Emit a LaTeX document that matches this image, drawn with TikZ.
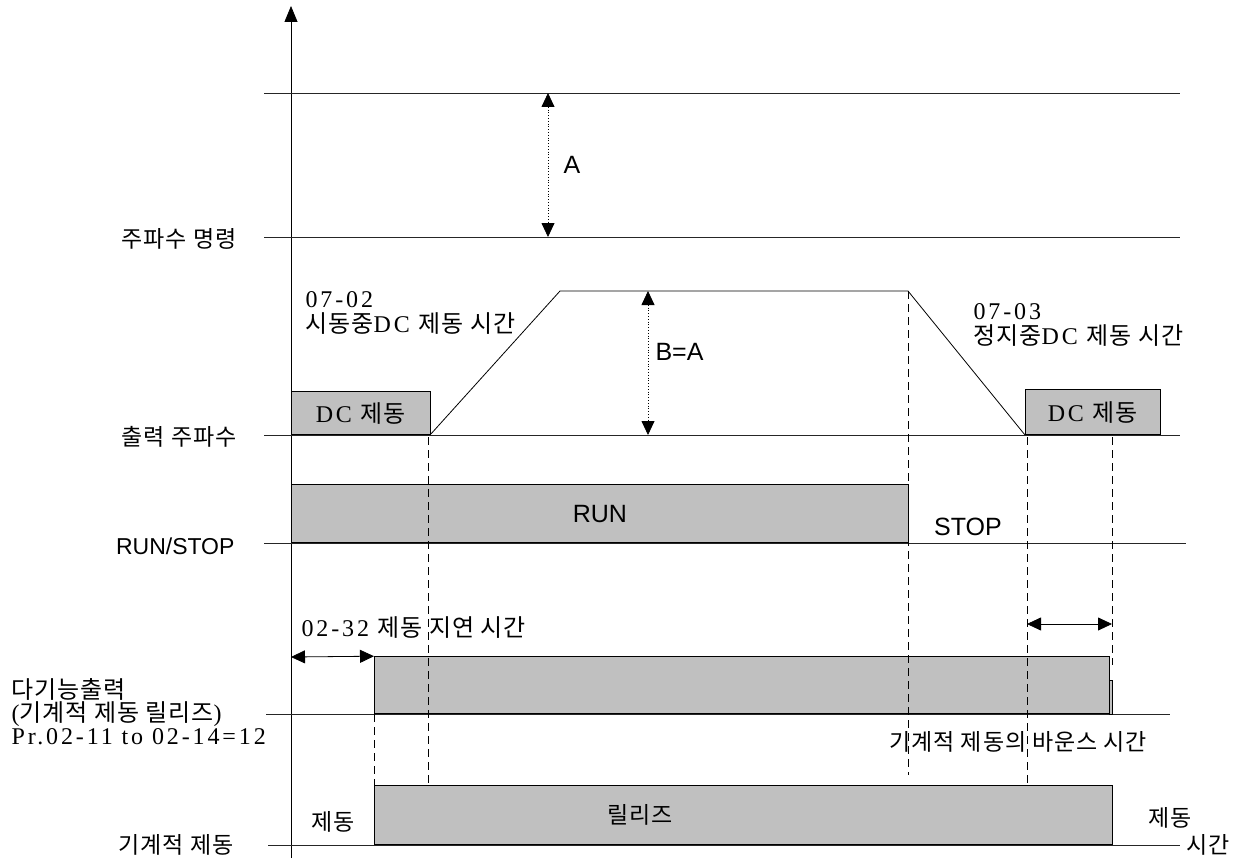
\documentclass[tikz,border=0pt]{standalone}
\usepackage{fontspec}
\setmainfont{Liberation Serif}[LetterSpace=12]
\newfontfamily\krfont{Noto Sans CJK KR}[LetterSpace=4]
\newfontfamily\arialfont{Liberation Sans}
\usepackage{tikz}
\usetikzlibrary{arrows.meta}
\definecolor{boxgray}{RGB}{192,192,192}

\begin{document}
\begin{tikzpicture}[x=1pt, y=-1pt, >={Triangle[length=14pt,width=13pt]},
  rail/.style={line width=0.8pt, black!85},
  gbox/.style={draw, fill=boxgray, line width=0.8pt, inner sep=0pt},
  guide/.style={line width=0.7pt, dash pattern=on 8pt off 5pt},
  span/.style={<->, line width=0.8pt},
  kr/.style={font=\krfont\fontsize{23}{25}\selectfont},
  num/.style={font=\fontsize{24}{25}\selectfont},
  sans/.style={font=\arialfont\fontsize{25}{26}\selectfont}]
  \useasboundingbox (0,0) rectangle (1254,859);

  % Time axis
  \coordinate (origin) at (291,858);
  \coordinate (top) at (291,6);
  \draw[line width=0.8pt, -{Triangle[length=16pt,width=13pt]}] (origin) -- (top);

  % Signal levels
  \foreach \y/\xs/\xe in {93/264/1180, 237/264/1180, 435/264/1180, 543/264/1186, 714/266/1170, 845/268/1180}
    \draw[rail] (\xs,\y) -- (\xe,\y);

  % Level labels
  \node[kr, anchor=east] (cmdlbl) at (240,239) {주파수 명령};
  \node[kr, anchor=east] (outlbl) at (240,437) {출력 주파수};
  \node[font=\arialfont\fontsize{23}{24}\selectfont, anchor=east] (runlbl) at (238,546) {RUN/STOP};
  \node[anchor=west, align=left, font=\fontsize{24}{23}\selectfont] (mfolbl) at (8,712)
    {{\krfont 다기능출력}\\({\krfont 기계적 제동 릴리즈})\\Pr.02-11 to 02-14=12};
  \node[kr, anchor=east] (brklbl) at (237,845) {기계적 제동};
  \node[kr, anchor=west] (timelbl) at (1183,845) {시간};

  % Output frequency
  \coordinate (s0) at (430,435);
  \coordinate (s1) at (560,291);
  \coordinate (s2) at (908,291);
  \coordinate (s3) at (1025,435);
  \draw[line width=0.8pt] (s0) -- (s1) -- (s2) -- (s3);
  \node[gbox, num, minimum width=139pt, minimum height=43pt, anchor=south west] (dcstart) at (291,435) {DC {\krfont 제동}};
  \node[gbox, num, minimum width=135pt, minimum height=45pt, anchor=south west] (dcstop) at (1025,435) {DC {\krfont 제동}};
  \node[num, anchor=west, align=left] (startnote) at (302,313) {07-02\\{\krfont 시동중}DC {\krfont 제동 시간}};
  \node[num, anchor=west, align=left] (stopnote) at (970,325) {07-03\\{\krfont 정지중}DC {\krfont 제동 시간}};

  % A and B=A
  \coordinate (a1) at (548,93);
  \coordinate (a2) at (548,237);
  \draw[span, dotted] (a1) -- (a2);
  \node[sans] (alabel) at (572,165) {A};
  \coordinate (b1) at (648,291);
  \coordinate (b2) at (648,435);
  \draw[span, dotted] (b1) -- (b2);
  \node[sans, anchor=west] (blabel) at (652,352) {B=A};

  % RUN / STOP
  \node[gbox, sans, minimum width=617pt, minimum height=58pt, anchor=south west] (run) at (291,543) {RUN};
  \node[sans] (stoplbl) at (968,527) {STOP};

  % Multi-function output
  \node[gbox, minimum width=735pt, minimum height=57pt, anchor=south west] (mfo) at (374,714) {};
  \draw[gbox] (mfo.south east) rectangle ++(3,-34);
  \node[num, anchor=west] (delaylbl) at (298,628) {02-32 {\krfont 제동 지연 시간}};
  \coordinate (d1) at (291,657);
  \draw[span] (d1) -- (mfo.north west);
  \coordinate (bn1) at (1027,624);
  \coordinate (bn2) at (1112,624);
  \draw[span] (bn1) -- (bn2);
  \node[kr, anchor=west] (bouncelbl) at (886,742) {기계적 제동의 바운스 시간};

  % Mechanical brake
  \node[gbox, minimum width=738pt, minimum height=59pt, anchor=south west] (brake) at (374,845) {};
  \node[kr] (releaselbl) at (640,815) {릴리즈};
  \node[kr] (brkon1) at (333,822) {제동};
  \node[kr] (brkon2) at (1170,818) {제동};

  % Guides
  \coordinate (g1) at (428,437);
  \coordinate (g3) at (908,775);
  \coordinate (g4) at (1027,437);
  \coordinate (g5) at (1112,437);
  \coordinate (g6) at (1112,665);
  \draw[guide] (g1) -- (g1 |- brake.north);
  \draw[guide] (mfo.south west) -- (brake.north west);
  \draw[guide] (s2) -- (g3);
  \draw[guide] (g4) -- (g4 |- brake.north);
  \draw[guide] (g5) -- (g6);
\end{tikzpicture}
\end{document}
